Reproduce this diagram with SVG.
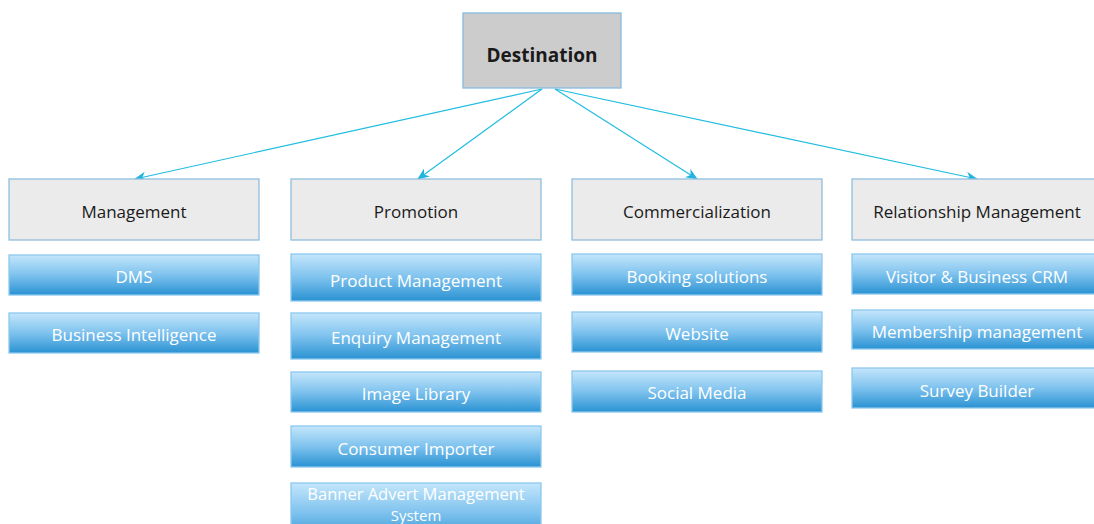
<svg xmlns="http://www.w3.org/2000/svg" width="1094" height="524" viewBox="0 0 1094 524">
<defs>
<linearGradient id="blue" x1="0" y1="0" x2="0" y2="1">
<stop offset="0" stop-color="#c4e6fb"/>
<stop offset="0.5" stop-color="#7ec2ee"/>
<stop offset="1" stop-color="#2a92d2"/>
</linearGradient>
<marker id="arr" viewBox="0 0 12 10" refX="11" refY="5" markerWidth="12" markerHeight="10" markerUnits="userSpaceOnUse" orient="auto">
<path d="M0,0 L12,5 L0,10 L3.5,5 Z" fill="#1fb5dc"/>
</marker>
<style>
.hdr{fill:#ebebeb;stroke:#8fbfe0;stroke-width:1.3}
.item{fill:url(#blue);stroke:#8cc8ee;stroke-width:1.3}
.ht{font-family:"Open Sans","Noto Sans",sans-serif;font-size:17px;fill:#1a1a1a;text-anchor:middle}
.it{font-family:"Open Sans","Noto Sans",sans-serif;font-size:17px;fill:#ffffff;text-anchor:middle}
.con{stroke:#1fbde0;stroke-width:1.2;fill:none;marker-end:url(#arr)}
</style>
</defs>
<rect width="1094" height="524" fill="#ffffff"/>
<g id="connectors">
<line class="con" x1="542" y1="89" x2="135" y2="179"/>
<line class="con" x1="542" y1="89" x2="418" y2="179"/>
<line class="con" x1="555" y1="89" x2="697" y2="179"/>
<line class="con" x1="555" y1="89" x2="977" y2="179"/>
</g>
<g id="destination">
<rect x="463" y="13" width="158" height="75" fill="#cccccc" stroke="#86bbe0" stroke-width="1.3"/>
<text x="542" y="62" font-family="'Open Sans','Noto Sans',sans-serif" font-size="19" font-weight="bold" fill="#1a1a1a" text-anchor="middle">Destination</text>
</g>
<g id="management">
<rect class="hdr" x="9" y="179" width="250" height="61"/>
<text class="ht" x="134" y="218">Management</text>
</g>
<g id="dms">
<rect class="item" x="9" y="255" width="250" height="40"/>
<text class="it" x="134" y="283">DMS</text>
</g>
<g id="business-intelligence">
<rect class="item" x="9" y="313" width="250" height="40"/>
<text class="it" x="134" y="341">Business Intelligence</text>
</g>
<g id="promotion">
<rect class="hdr" x="291" y="179" width="250" height="61"/>
<text class="ht" x="416" y="218">Promotion</text>
</g>
<g id="product-management">
<rect class="item" x="291" y="254" width="250" height="47"/>
<text class="it" x="416" y="287">Product Management</text>
</g>
<g id="enquiry-management">
<rect class="item" x="291" y="313" width="250" height="46"/>
<text class="it" x="416" y="344">Enquiry Management</text>
</g>
<g id="image-library">
<rect class="item" x="291" y="372" width="250" height="40"/>
<text class="it" x="416" y="400">Image Library</text>
</g>
<g id="consumer-importer">
<rect class="item" x="291" y="426" width="250" height="41"/>
<text class="it" x="416" y="455">Consumer Importer</text>
</g>
<g id="banner-advert">
<rect class="item" x="291" y="483" width="250" height="60"/>
<text class="it" x="416" y="500" style="font-size:16.5px">Banner Advert Management</text>
<text class="it" x="416" y="521" style="font-size:15px">System</text>
</g>
<g id="commercialization">
<rect class="hdr" x="572" y="179" width="250" height="61"/>
<text class="ht" x="697" y="218">Commercialization</text>
</g>
<g id="booking-solutions">
<rect class="item" x="572" y="254" width="250" height="41"/>
<text class="it" x="697" y="283">Booking solutions</text>
</g>
<g id="website">
<rect class="item" x="572" y="312" width="250" height="40"/>
<text class="it" x="697" y="340">Website</text>
</g>
<g id="social-media">
<rect class="item" x="572" y="371" width="250" height="41"/>
<text class="it" x="697" y="399">Social Media</text>
</g>
<g id="relationship-management">
<rect class="hdr" x="852" y="179" width="250" height="61"/>
<text class="ht" x="977" y="218">Relationship Management</text>
</g>
<g id="visitor-crm">
<rect class="item" x="852" y="254" width="250" height="40"/>
<text class="it" x="977" y="283">Visitor &amp; Business CRM</text>
</g>
<g id="membership-management">
<rect class="item" x="852" y="310" width="250" height="39"/>
<text class="it" x="977" y="338">Membership management</text>
</g>
<g id="survey-builder">
<rect class="item" x="852" y="368" width="250" height="40"/>
<text class="it" x="977" y="397">Survey Builder</text>
</g>
</svg>
